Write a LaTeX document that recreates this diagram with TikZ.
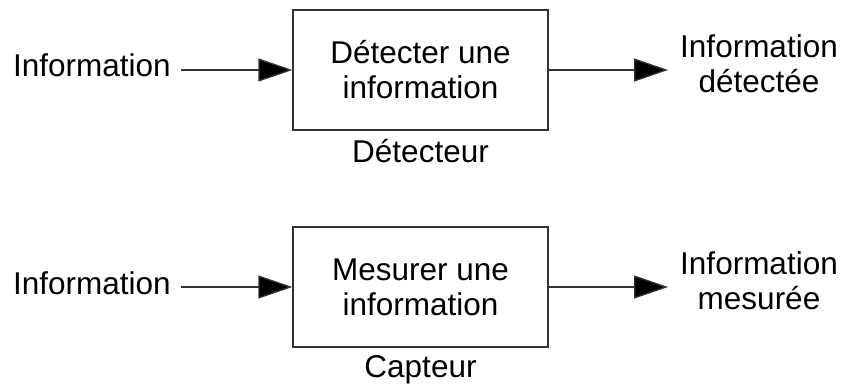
\documentclass[tikz,border=0pt]{standalone}
\usepackage{fontspec}
\setmainfont{Liberation Sans}
\usepackage{tikz}
\usetikzlibrary{arrows.meta,positioning}
\definecolor{LineGray}{RGB}{50,50,50}

\begin{document}
\begin{tikzpicture}[x=1pt,y=-1pt,
  txt/.style={font=\fontsize{31.5}{35}\selectfont,align=center,inner sep=0pt},
  blk/.style={draw=LineGray,line width=1.3pt,minimum width=255pt,minimum height=120pt,txt},
  arr/.style={draw=LineGray,line width=1.3pt,-{Triangle[length=34pt,width=23pt,fill=black]}}]
\useasboundingbox(0,0)rectangle(845,385);

% Row 1: detecteur
\node[blk](det)at(420.5,70){D\'etecter une\\information};
\node[txt,anchor=base west](in1)at(13,77){Information};
\node[txt,anchor=north](out1)at(759,34){Information\\d\'etect\'ee};
\node[txt,below=8pt of det](detlbl){D\'etecteur};
\draw[arr]([xshift=10pt]in1.east|-det.west)--(det.west);
\draw[arr](det.east)--([xshift=-12pt]out1.west|-det.east);

% Row 2: capteur
\node[blk](cap)at(420.5,287){Mesurer une\\information};
\node[txt,anchor=base west](in2)at(13,294){Information};
\node[txt,anchor=north](out2)at(759,251){Information\\mesur\'ee};
\node[txt,below=8pt of cap](caplbl){Capteur};
\draw[arr]([xshift=10pt]in2.east|-cap.west)--(cap.west);
\draw[arr](cap.east)--([xshift=-12pt]out2.west|-cap.east);
\end{tikzpicture}
\end{document}
